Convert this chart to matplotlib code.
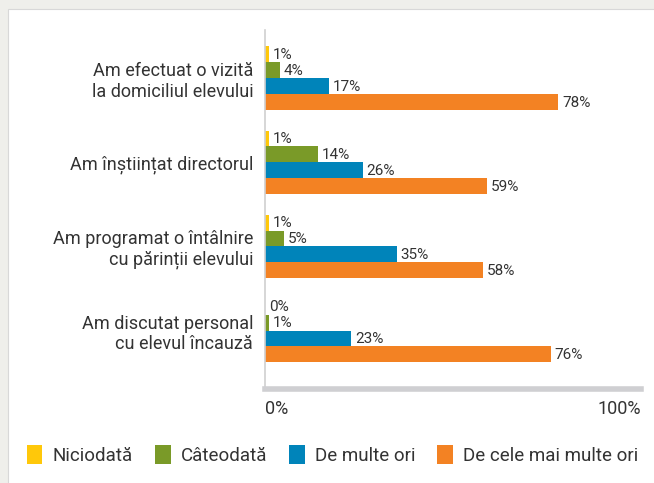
import numpy as np
import matplotlib.pyplot as plt
from matplotlib.patches import Rectangle

# ----------
# Data

categories = ["Am efectuat o vizită\nla domiciliul elevului",
              "Am înștiințat directorul",
              "Am programat o întâlnire\ncu părinții elevului",
              "Am discutat personal\ncu elevul încauză"]
series_names = ["Niciodată", "Câteodată", "De multe ori", "De cele mai multe ori"]
niciodata = [1, 1, 1, 0]
cateodata = [4, 14, 5, 1]
de_multe_ori = [17, 26, 35, 23]
de_cele_mai = [78, 59, 58, 76]
series_values = [niciodata, cateodata, de_multe_ori, de_cele_mai]
colors = ["#FFC80A", "#7A9A28", "#0084BA", "#F38223"]
x_ticks = [0, 100]
x_ticklabels = ["0%", "100%"]

plt.rcParams['font.family'] = ['Roboto', 'DejaVu Sans']
text_col = "#333333"

# ----------
# Figure

fig = plt.figure(figsize=(6.54, 4.83), dpi=100)
fig.patch.set_facecolor("#EFEFEB")

# white panel behind everything
bg = fig.add_axes([0, 0, 1, 1], zorder=-1)
bg.axis("off")
bg.set_xlim(0, 654)
bg.set_ylim(483, 0)
bg.add_patch(Rectangle((8, 9), 660, 500, facecolor="white", edgecolor="#D8D8D8", lw=0.8))

ax = fig.add_axes([265/654, 1 - 389/483, 376/654, 359/483])
ax.set_facecolor("none")

h = 0.19
y = np.arange(len(categories))
for k, (vals, col, name) in enumerate(zip(series_values, colors, series_names)):
    pos = y + (k - 1.5) * h
    bars = ax.barh(pos, vals, height=h, color=col, label=name)
    for b, v in zip(bars, vals):
        ax.text(b.get_width() + 1.0, b.get_y() + h / 2 + 0.01, f"{v}%",
                va="center", ha="left", fontsize=11, color=text_col)

ax.set_xlim(0, 100)
ax.set_ylim(3.696, -0.576)
ax.set_yticks(y)
ax.set_yticklabels(categories, fontsize=13, color=text_col, linespacing=1.15)
ax.tick_params(axis="y", length=0, pad=8.5)
ax.set_xticks(x_ticks)
ax.set_xticklabels(x_ticklabels, fontsize=13, color=text_col)
ax.get_xticklabels()[0].set_ha("left")
ax.get_xticklabels()[1].set_ha("right")
ax.tick_params(axis="x", length=0, pad=8)

for s in ["top", "right"]:
    ax.spines[s].set_visible(False)
ax.spines["left"].set_color("#D0D0D0")
ax.spines["left"].set_linewidth(1.2)
ax.spines["bottom"].set_color("#CFCFD2")
ax.spines["bottom"].set_linewidth(4)

fig.legend(loc="center left", bbox_to_anchor=(19/654, 1 - 455/483), ncol=4,
           frameon=False, fontsize=13.5, handlelength=0.85, handleheight=1.15,
           handletextpad=0.55, columnspacing=1.15, borderaxespad=0,
           labelcolor=text_col)

fig.savefig("out.png", dpi=100, facecolor=fig.get_facecolor())
